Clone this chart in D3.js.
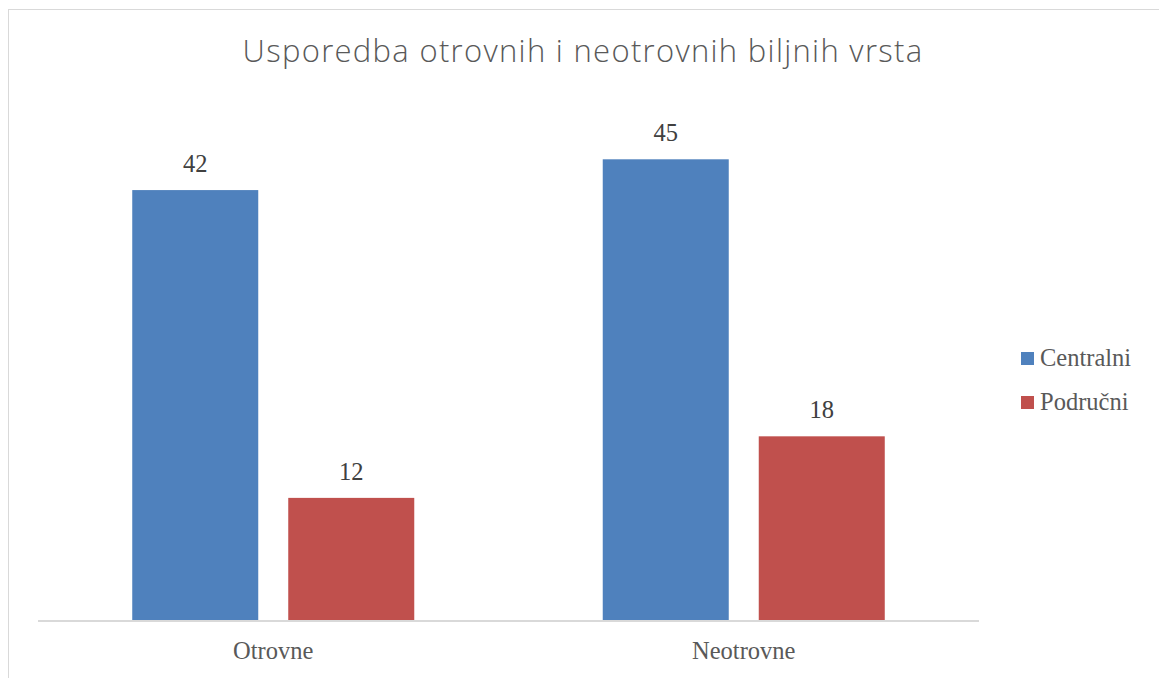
<!DOCTYPE html>
<html>
<head>
<meta charset="utf-8">
<script src="https://cdn.jsdelivr.net/npm/d3@7"></script>
<style>
html,body{margin:0;padding:0;background:#fff;}
svg{display:block;}
</style>
</head>
<body>
<svg id="chart" width="1159" height="678"></svg>
<script>
const categories = ["Otrovne", "Neotrovne"];
const seriesNames = ["Centralni", "Područni"];
const centralni = [42, 45];
const podrucni = [12, 18];
const title = "Usporedba otrovnih i neotrovnih biljnih vrsta";

const colors = ["#4F81BD", "#C0504D"];
const seriesValues = [centralni, podrucni];

const svg = d3.select("#chart");

// chart border
svg.append("rect").attr("x", 8.5).attr("y", 9.5).attr("width", 1170).attr("height", 700)
  .attr("fill", "#fff").attr("stroke", "#D9D9D9").attr("stroke-width", 1);

const plot = {left: 38, right: 979, top: 108, bottom: 621};

const x0 = d3.scaleBand().domain(categories).range([plot.left, plot.right])
  .paddingInner(0.4006).paddingOuter(0.2003);
const x1 = d3.scaleBand().domain(seriesNames).range([0, x0.bandwidth()])
  .paddingInner(0.1923).paddingOuter(0);
const y = d3.scaleLinear().domain([0, 50]).range([plot.bottom, plot.top]);

const serif = "'Liberation Serif', 'Times New Roman', serif";

// bars
categories.forEach((c, ci) => {
  const g = svg.append("g").attr("transform", `translate(${x0(c)},0)`);
  seriesNames.forEach((s, si) => {
    const v = seriesValues[si][ci];
    g.append("rect")
      .attr("x", x1(s)).attr("y", y(v))
      .attr("width", x1.bandwidth()).attr("height", y(0) - y(v))
      .attr("fill", colors[si]);
    g.append("text")
      .attr("x", x1(s) + x1.bandwidth() / 2).attr("y", y(v) - 18)
      .attr("text-anchor", "middle")
      .attr("font-family", serif).attr("font-size", 24.5)
      .attr("fill", "#404040")
      .text(v);
  });
});

// x axis
const xAxis = svg.append("g").attr("transform", `translate(0,${plot.bottom})`)
  .call(d3.axisBottom(x0).tickSize(0).tickPadding(0));
xAxis.select(".domain").attr("stroke", "#D9D9D9").attr("stroke-width", 2)
  .attr("d", `M${plot.left},0H${plot.right}`);
xAxis.selectAll(".tick text")
  .attr("y", 38).attr("dy", 0)
  .attr("font-family", serif).attr("font-size", 24.5).attr("fill", "#595959");

// title
svg.append("text")
  .attr("x", 583).attr("y", 62)
  .attr("text-anchor", "middle")
  .attr("font-family", "'Open Sans', 'Noto Sans', sans-serif")
  .attr("font-weight", 300)
  .attr("font-size", 31)
  .attr("letter-spacing", 1.3)
  .attr("fill", "#595959")
  .text(title);

// legend
const legend = svg.append("g");
seriesNames.forEach((s, i) => {
  const ly = 352 + i * 44;
  legend.append("rect").attr("x", 1021).attr("y", ly).attr("width", 13).attr("height", 13)
    .attr("fill", colors[i]);
  legend.append("text").attr("x", 1040).attr("y", ly + 14)
    .attr("font-family", serif).attr("font-size", 24.5).attr("fill", "#595959")
    .text(s);
});
</script>
</body>
</html>
